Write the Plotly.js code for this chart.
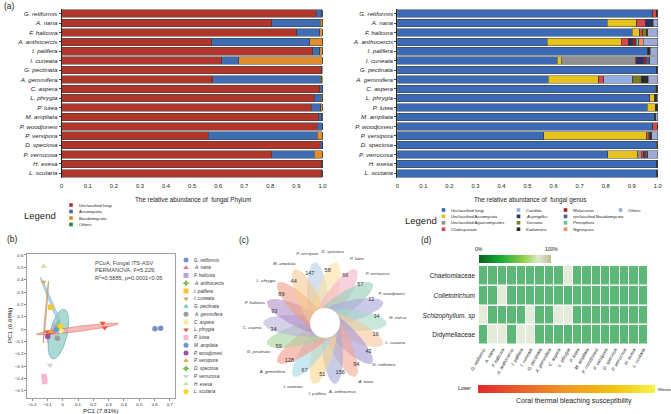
<!DOCTYPE html>
<html><head><meta charset="utf-8">
<script src="https://cdn.plot.ly/plotly-3.0.1.min.js"></script>
<style>html,body{margin:0;padding:0;background:#fff;}#chart{width:671px;height:414px;}</style>
</head><body><div id="chart"></div>
<script>
const W=671,H=414;
const FONT='"Liberation Sans", Arial, sans-serif';

// ---------- Panel (a) data ----------
const species=['G. retiformis','A. nana','F. halicora','A. anthocercis','I. palifera','I. cuneata','G. pectinata','A. gemmifera','C. aspera','L. phrygia','P. lutea','M. ampliata','P. woodjonesi','P. versipora','D. speciosa','P. verrucosa','H. exesa','L. scutaria'];

const phylumNames=['Unclassified fungi','Ascomycota','Basidiomycota','Others'];
const phylumColors=['#b0362b','#3f6db3','#e08d2f','#1e8b3c'];
const pUnclassified=[0.977,0.806,0.902,0.576,0.962,0.614,0.995,0.580,0.990,0.969,0.957,0.986,0.980,0.562,0.991,0.806,0.997,0.998];
const pAscomycota=[0.021,0.185,0.088,0.376,0.028,0.065,0.002,0.411,0.009,0.026,0.037,0.012,0.019,0.418,0.008,0.162,0.002,0.001];
const pBasidiomycota=[0.001,0.009,0.010,0.048,0.010,0.321,0.001,0.005,0.001,0.004,0.006,0.001,0.001,0.020,0.001,0.032,0.001,0.001];
const pOthers=[0.001,0,0,0,0,0,0.002,0.004,0,0.001,0,0.001,0,0,0,0,0,0];
const phylumValues=[pUnclassified,pAscomycota,pBasidiomycota,pOthers];

const genusNames=['Unclassified fungi','Unclassified Ascomycota','Unclassified Agaricomycetes','Cladosporium','Candida','Aspergillus','Yarrowia','Kodamaea','Malassezia','unclassified Basidiomycota','Peniophora','Nigrospora','Others'];
const genusColors=['#3a6bb4','#e6c21e','#8f8f8f','#d9474a','#8fb0e0','#2a3263','#7f7a22','#2b2b2b','#9c1f28','#4d5f8f','#5ec4a2','#f28c68','#a0abd6'];
const gFungi=[0.981,0.806,0.902,0.576,0.962,0.614,0.995,0.580,0.990,0.969,0.959,0.987,0.981,0.563,0.994,0.808,0.996,0.996];
const gAsco=[0,0.114,0.028,0.284,0,0.015,0,0.194,0,0.020,0.031,0,0,0.392,0,0.115,0,0];
const gAgar=[0,0,0,0,0,0.285,0,0,0,0,0,0,0,0,0,0.013,0,0];
const gClad=[0.014,0.032,0.013,0.026,0,0.006,0,0.019,0,0,0,0,0.019,0.009,0,0.010,0,0];
const gCandida=[0,0,0,0,0,0,0,0.111,0,0,0,0,0,0,0,0,0,0];
const gAsperg=[0,0.026,0,0.017,0,0.026,0,0,0,0,0,0,0,0,0,0,0,0];
const gYarrowia=[0,0,0.013,0,0,0,0,0.032,0.004,0,0,0,0,0.006,0.006,0,0,0];
const gKodamaea=[0.005,0.004,0.006,0,0.009,0,0.005,0.028,0.006,0.007,0.010,0.006,0,0.006,0,0,0.004,0.004];
const gMalass=[0,0,0,0.015,0,0.009,0,0,0,0,0,0,0,0,0,0.006,0,0];
const gBasid=[0,0,0,0,0,0.015,0,0,0,0,0,0,0,0,0,0.009,0,0];
const gPenio=[0,0,0,0.009,0,0,0,0,0,0,0,0,0,0,0,0,0,0];
const gNigro=[0,0,0,0.017,0,0,0,0,0,0,0,0,0,0,0,0,0,0];
const gOthers=[0,0.018,0.038,0.056,0.029,0.030,0,0.036,0,0.004,0,0.007,0,0.024,0,0.039,0,0];
const genusValues=[gFungi,gAsco,gAgar,gClad,gCandida,gAsperg,gYarrowia,gKodamaea,gMalass,gBasid,gPenio,gNigro,gOthers];
const abundTicks=[0,0.1,0.2,0.3,0.4,0.5,0.6,0.7,0.8,0.9,1.0];
const abundTickText=['0','0.1','0.2','0.3','0.4','0.5','0.6','0.7','0.8','0.9','1.0'];

// ---------- Panel (b) data ----------
const pcoaColors=['#7393c9','#e8709a','#b9a3d9','#76c043','#f5c431','#d9a86c','#72c9b8','#9c9c9c','#f7ea9c','#ee5640','#f5b8d0','#5f9ad6','#9c4fa5','#f4a43b','#6dbf45','#cfcfcf','#bfe2ad','#f6d535'];
const pcoaSymbols=['circle','triangle-up','square','star-diamond','square','triangle-down','triangle-up','circle','diamond','triangle-down','square','circle','circle','triangle-up','star-diamond','triangle-down','triangle-up','diamond'];
const pcoaGroup=[0,0,1,1,2,2,3,4,5,5,6,6,7,8,9,9,9,9,10,10,10,11,12,13,14,15,16,17];
const pcoaX=[0.602,0.639,-0.055,-0.065,-0.035,-0.045,-0.017,-0.078,-0.126,-0.095,-0.026,-0.020,-0.035,-0.012,0.261,0.274,-0.085,-0.100,-0.122,-0.118,-0.117,-0.040,-0.098,-0.078,-0.028,-0.083,-0.124,-0.015];
const pcoaY=[0.003,0.008,-0.015,-0.028,0.027,0.012,0.008,0.178,0.381,-0.035,0.055,-0.005,-0.073,-0.012,0.049,0.011,-0.030,-0.022,-0.384,-0.405,-0.424,0.000,-0.059,-0.019,0.018,-0.292,0.508,0.025];
// ellipses: centre, conjugate semi-diameters (data units)
const ellCx=[-0.028,0.097,-0.070,-0.110,-0.045,-0.095];
const ellCy=[-0.040,0.001,0.200,0.137,0.010,-0.060];
const ellAx=[0.033,0.267,0.074,0.017,0.025,0.004];
const ellAy=[0.201,0.042,-0.219,0.250,0.035,0.050];
const ellBx=[0.058,0,0.010,0.005,0.015,0.004];
const ellBy=[0,0.021,0,0,0,0];
const ellFill=['rgba(150,208,200,0.8)','rgba(240,165,160,0.75)','rgba(165,205,225,0.8)','rgba(214,178,135,0.7)','rgba(200,180,225,0.7)','rgba(170,170,170,0.7)'];
const ellLine=['#5aa39a','#d9706a','#7fb3cc','#b98e5e','#a58fc9','#999999'];

// ---------- Panel (c) data ----------
const flowerSpecies=['P. versipora','D. speciosa','P. lutea','P. verrucosa','P. woodjonesi','H. exesa','L. scutaria','G. retiformis','A. nana','A. anthocercis','I. palifera','I. cuneata','A. gemmifera','G. pectinata','C. aspera','F. halicora','L. phrygia','M. ampliata'];
const uniqueCounts=[147,58,66,57,12,34,16,42,94,156,51,67,128,59,34,93,89,44];
const coreCount=0;
const petalColors=['#b8cde8','#fde0a0','#f5b3c8','#92cdb8','#aaa6dc','#a5d9c4','#f7c79c','#a497d6','#f4a696','#a4aad9','#fbd68a','#a6d5e2','#f39a88','#a6d49e','#b8b1da','#b38fca','#ec9e86','#f5c98e'];

// ---------- Panel (d) data ----------
const families=['Chaetomiaceae','Colletotrichum','Schizophyllum. sp','Didymellaceae'];
const familyItalic=[false,true,true,false];
const zChaetomiaceae=[1,1,1,1,1,1,1,1,1,0,1,1,1,1,1,1,1,1];
const zColletotrichum=[1,1,0,1,1,1,1,1,1,1,1,1,1,1,1,1,1,1];
const zSchizophyllum=[0,1,1,1,1,0,1,1,0,0,1,1,1,1,1,1,1,1];
const zDidymellaceae=[1,0,0,1,0,0,1,1,1,1,1,1,1,1,1,1,1,1];

// ---------- helpers ----------
const px=x=>x/W, py=y=>1-y/H;
const ital=s=>'<i>'+s+'</i>';
const traces=[]; const ann=[]; const shapes=[];
function txt(x,y,t,size,opt){ann.push(Object.assign({xref:'x8',yref:'y8',x:x,y:y,text:t,showarrow:false,font:{size:size,color:'#222',family:FONT},xanchor:'center',yanchor:'middle'},opt||{}));}

// Panel (a) bars
phylumValues.forEach((v,k)=>traces.push({type:'bar',orientation:'h',y:species,x:v,xaxis:'x',yaxis:'y',marker:{color:phylumColors[k],line:{color:'#3a3a3a',width:0.5}},showlegend:false,hoverinfo:'skip'}));
genusValues.forEach((v,k)=>traces.push({type:'bar',orientation:'h',y:species,x:v,xaxis:'x2',yaxis:'y2',marker:{color:genusColors[k],line:{color:'#3a3a3a',width:0.5}},showlegend:false,hoverinfo:'skip'}));

// legend (a) left
traces.push({type:'scatter',mode:'markers',xaxis:'x8',yaxis:'y8',x:phylumNames.map(()=>71),y:phylumNames.map((_,i)=>205+6.5*i),marker:{symbol:'square',size:3.6,color:phylumColors},showlegend:false,hoverinfo:'skip'});
phylumNames.forEach((n,i)=>txt(77,205+6.5*i,n,4.2,{xanchor:'left'}));
txt(40,215,'Legend',9.5);
// legend (a) right
const gCol=[443.5,518.5,565.5,620.5];
traces.push({type:'scatter',mode:'markers',xaxis:'x8',yaxis:'y8',x:genusNames.map((_,i)=>gCol[Math.floor(i/4)]),y:genusNames.map((_,i)=>210+6.4*(i%4)),marker:{symbol:'square',size:3.6,color:genusColors},showlegend:false,hoverinfo:'skip'});
genusNames.forEach((n,i)=>txt(gCol[Math.floor(i/4)]+5,210+6.4*(i%4),(i>=3&&i<=11&&n!=='unclassified Basidiomycota')?ital(n):n,4.2,{xanchor:'left'}));
txt(421,220,'Legend',9.5);

txt(2,6,'(a)',8.5,{xanchor:'left'});
txt(193,200,'The relative abundance of  fungal Phylum',6.3);
txt(530,200,'The relative abundance of  fungal genus',6.3);

// Panel (b)
function ellipse(cx,cy,ax,ay,bx,by){const xs=[],ys=[];for(let k=0;k<=72;k++){const t=2*Math.PI*k/72;xs.push(cx+ax*Math.cos(t)+bx*Math.sin(t));ys.push(cy+ay*Math.cos(t)+by*Math.sin(t));}return [xs,ys];}
ellCx.forEach((c,i)=>{const e=ellipse(c,ellCy[i],ellAx[i],ellAy[i],ellBx[i],ellBy[i]);traces.push({type:'scatter',mode:'lines',x:e[0],y:e[1],xaxis:'x3',yaxis:'y3',fill:'toself',fillcolor:ellFill[i],line:{color:ellLine[i],width:0.6},showlegend:false,hoverinfo:'skip'});});
traces.push({type:'scatter',mode:'markers',x:pcoaX,y:pcoaY,xaxis:'x3',yaxis:'y3',marker:{size:5.5,color:pcoaGroup.map(g=>pcoaColors[g]),symbol:pcoaGroup.map(g=>pcoaSymbols[g]),line:{width:0}},showlegend:false,hoverinfo:'skip'});
// legend (b)
traces.push({type:'scatter',mode:'markers',xaxis:'x8',yaxis:'y8',x:species.map(()=>186),y:species.map((_,i)=>260+7.75*i),marker:{size:5,color:pcoaColors,symbol:pcoaSymbols},showlegend:false,hoverinfo:'skip'});
species.forEach((n,i)=>txt(191.5,260+7.75*i,ital(n),4.6,{xanchor:'left',font:{size:4.6,color:'#333',family:FONT}}));
txt(5,239,'(b)',8.5,{xanchor:'left'});
['PCoA, Fungal ITS-ASV','PERMANOVA, F=5.229,','R<sup>2</sup>=0.5885, p=0.0001&lt;0.05'].forEach((t,i)=>txt(93,263+7*i,t,5.6,{xanchor:'left',font:{size:5.6,color:'#444',family:FONT}}));
txt(100,410,'PC1 (7.81%)',6.2);
txt(9,326,'PC1 (6.68%)',6.2,{textangle:-90});

// Panel (c) flower (axis units = pixels, centre at 0,0)
const deg=Math.PI/180;
flowerSpecies.forEach((s,i)=>{
  const th=(-17+20*i)*deg, phi=th+12*deg;
  const cx=24*Math.sin(th), cy=24*Math.cos(th);
  const a=38,b=10.5; const xs=[],ys=[];
  for(let k=0;k<=72;k++){const t=2*Math.PI*k/72;
    xs.push(cx+a*Math.cos(t)*Math.sin(phi)+b*Math.sin(t)*Math.cos(phi));
    ys.push(cy+a*Math.cos(t)*Math.cos(phi)-b*Math.sin(t)*Math.sin(phi));}
  traces.push({type:'scatter',mode:'lines',x:xs,y:ys,xaxis:'x4',yaxis:'y4',fill:'toself',fillcolor:petalColors[i],opacity:0.6,line:{width:0},showlegend:false,hoverinfo:'skip'});
});
shapes.push({type:'circle',xref:'x4',yref:'y4',x0:-15,x1:15,y0:-15,y1:15,fillcolor:'#ffffff',line:{width:0}});
traces.push({type:'scatter',mode:'text',xaxis:'x4',yaxis:'y4',x:uniqueCounts.map((_,i)=>52*Math.sin((-17+20*i)*deg)),y:uniqueCounts.map((_,i)=>52*Math.cos((-17+20*i)*deg)),text:uniqueCounts.map(String),textfont:{size:5.6,color:'#333',family:FONT},showlegend:false,hoverinfo:'skip'});
traces.push({type:'scatter',mode:'text',xaxis:'x4',yaxis:'y4',x:flowerSpecies.map((_,i)=>73*Math.sin((-14+20*i)*deg)),y:flowerSpecies.map((_,i)=>71*Math.cos((-14+20*i)*deg)),text:flowerSpecies.map(ital),textfont:{size:4.3,color:'#333',family:FONT},showlegend:false,hoverinfo:'skip'});
traces.push({type:'scatter',mode:'text',xaxis:'x4',yaxis:'y4',x:[0],y:[0],text:[String(coreCount)],textfont:{size:5.6,color:'#333',family:FONT},showlegend:false,hoverinfo:'skip'});
txt(244,240,'(c)',8.5);

// Panel (d) heatmap
traces.push({type:'heatmap',x:species,y:families,z:[zChaetomiaceae,zColletotrichum,zSchizophyllum,zDidymellaceae],xaxis:'x5',yaxis:'y5',zmin:0,zmax:1,colorscale:[[0,'#e3ebd9'],[1,'#5db878']],showscale:false,xgap:1,ygap:1.5,hoverinfo:'skip'});
traces.push({type:'heatmap',x:[0,1],y:[0,1],z:[[0,1],[0,1]],xaxis:'x6',yaxis:'y6',zsmooth:'best',zmin:0,zmax:1,colorscale:[[0,'#00661c'],[0.3,'#18ad35'],[0.62,'#94d04c'],[0.82,'#dcebcc'],[1,'#c4b896']],showscale:false,hoverinfo:'skip'});
traces.push({type:'heatmap',x:[0,1],y:[0,1],z:[[0,1],[0,1]],xaxis:'x7',yaxis:'y7',zsmooth:'best',zmin:0,zmax:1,colorscale:[[0,'#e02a2a'],[0.45,'#f08e28'],[0.75,'#f2c010'],[1,'#f8f245']],showscale:false,hoverinfo:'skip'});
txt(426,240,'(d)',8.5);
txt(479,249,'0%',5);
txt(551,249,'100%',5);
txt(473,388,'Loser',5.2,{xanchor:'right'});
txt(656,389,'Winner',4.3,{xanchor:'left'});
txt(574,401,'Coral thermal bleaching susceptibility',7);

const tf=(s)=>({size:s,color:'#222',family:FONT});
const hidden=(d,r)=>({domain:d,range:r,visible:false,fixedrange:true});
const layout={
  width:W,height:H,margin:{l:0,r:0,t:0,b:0},paper_bgcolor:'#fff',plot_bgcolor:'rgba(0,0,0,0)',
  font:{family:FONT,color:'#222'},barmode:'stack',bargap:0.2,showlegend:false,
  xaxis:{domain:[px(61.7),px(323)],anchor:'y',range:[0,1.002],tickmode:'array',tickvals:abundTicks,ticktext:abundTickText,showgrid:false,zeroline:false,showline:false,ticks:'',tickfont:tf(5.8),ticklabelstandoff:3,fixedrange:true},
  yaxis:{domain:[py(178),py(9)],anchor:'x',type:'category',categoryorder:'array',categoryarray:species,autorange:'reversed',tickmode:'array',tickvals:species,ticktext:species.map(ital),showline:true,linecolor:'#222',linewidth:1,ticks:'outside',ticklen:2,tickcolor:'#444',tickfont:tf(6.2),showgrid:false,fixedrange:true},
  xaxis2:{domain:[px(397.3),px(658.3)],anchor:'y2',range:[0,1.002],tickmode:'array',tickvals:abundTicks,ticktext:abundTickText,showgrid:false,zeroline:false,showline:false,ticks:'',tickfont:tf(5.8),ticklabelstandoff:3,fixedrange:true},
  yaxis2:{domain:[py(178),py(9)],anchor:'x2',type:'category',categoryorder:'array',categoryarray:species,autorange:'reversed',tickmode:'array',tickvals:species,ticktext:species.map(ital),showline:true,linecolor:'#222',linewidth:1,ticks:'outside',ticklen:2,tickcolor:'#444',tickfont:tf(6.2),showgrid:false,fixedrange:true},
  xaxis3:{domain:[px(27),px(175)],anchor:'y3',range:[-0.233,0.733],tick0:-0.2,dtick:0.1,showgrid:false,zeroline:false,showline:true,mirror:true,linecolor:'#8a8a8a',linewidth:0.8,ticks:'outside',ticklen:2,tickcolor:'#8a8a8a',tickfont:tf(4.3),fixedrange:true},
  yaxis3:{domain:[py(398),py(254)],anchor:'x3',range:[-0.557,0.608],tick0:-0.5,dtick:0.1,showgrid:false,zeroline:false,showline:true,mirror:true,linecolor:'#8a8a8a',linewidth:0.8,ticks:'outside',ticklen:2,tickcolor:'#8a8a8a',tickfont:tf(4.3),fixedrange:true},
  xaxis4:Object.assign(hidden([px(240),px(410)],[-85,85]),{anchor:'y4'}),
  yaxis4:Object.assign(hidden([py(408),py(238)],[-85,85]),{anchor:'x4'}),
  xaxis5:{domain:[px(479),px(648)],anchor:'y5',type:'category',tickmode:'array',tickvals:species,ticktext:species.map(ital),tickangle:-60,ticks:'',showline:false,showgrid:false,zeroline:false,tickfont:tf(4.6),fixedrange:true},
  yaxis5:{domain:[py(345),py(266)],anchor:'x5',type:'category',autorange:'reversed',tickmode:'array',tickvals:families,ticktext:families.map((f,i)=>familyItalic[i]?ital(f):f),ticks:'',showline:false,showgrid:false,zeroline:false,tickfont:tf(6.5),ticklabelstandoff:3,fixedrange:true},
  xaxis6:Object.assign(hidden([px(479),px(551)],[0,1]),{anchor:'y6'}),
  yaxis6:Object.assign(hidden([py(263),py(255)],[0,1]),{anchor:'x6'}),
  xaxis7:Object.assign(hidden([px(478),px(655)],[0,1]),{anchor:'y7'}),
  yaxis7:Object.assign(hidden([py(393),py(385)],[0,1]),{anchor:'x7'}),
  xaxis8:Object.assign(hidden([0,1],[0,W]),{anchor:'y8'}),
  yaxis8:Object.assign(hidden([0,1],[H,0]),{anchor:'x8'}),
  annotations:ann,shapes:shapes
};
Plotly.newPlot('chart',traces,layout,{staticPlot:true,displayModeBar:false});
</script></body></html>
